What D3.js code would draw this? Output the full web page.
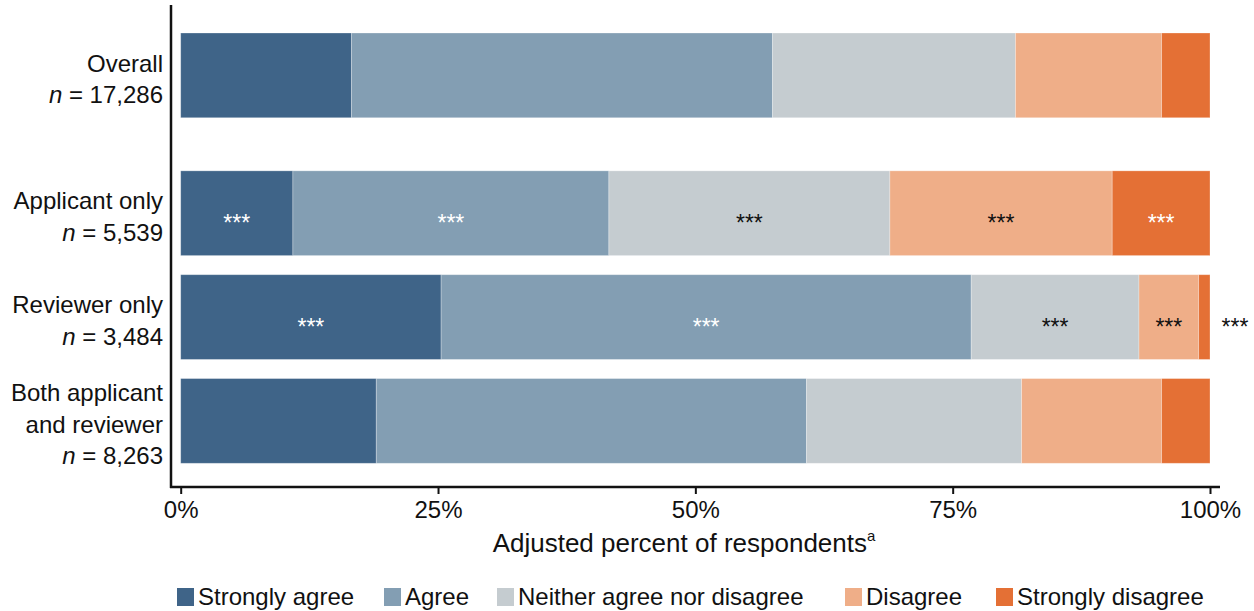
<!DOCTYPE html>
<html>
<head>
<meta charset="utf-8">
<script src="https://cdn.jsdelivr.net/npm/d3@7"></script>
<style>
  html, body { margin: 0; padding: 0; background: #fff; }
  svg text { font-family: "Liberation Sans", Arial, Helvetica, sans-serif; }
</style>
</head>
<body>
<svg id="chart" width="1254" height="611"></svg>
<script>
// ---- Data ----
const categories = ["Overall", "Applicant only", "Reviewer only", "Both applicant and reviewer"];
const categoryLines = [["Overall"], ["Applicant only"], ["Reviewer only"], ["Both applicant", "and reviewer"]];
const sampleSizes = ["17,286", "5,539", "3,484", "8,263"];
const responses = ["Strongly agree", "Agree", "Neither agree nor disagree", "Disagree", "Strongly disagree"];
const stronglyAgree    = [16.6, 10.9, 25.3, 19.0];
const agree            = [40.9, 30.7, 51.5, 41.8];
const neither          = [23.6, 27.3, 16.3, 20.9];
const disagree         = [14.2, 21.6,  5.8, 13.6];
const stronglyDisagree = [ 4.7,  9.5,  1.1,  4.7];
const significance = [
  ["", "", "", "", ""],
  ["***", "***", "***", "***", "***"],
  ["***", "***", "***", "***", "***"],
  ["", "", "", "", ""]
];
const xTicks = [0, 25, 50, 75, 100];
const colors = ["#3f6488", "#839eb3", "#c5ccd0", "#efae88", "#e47035"];
const starColors = ["#ffffff", "#ffffff", "#111111", "#111111", "#ffffff"];

const seriesValues = [stronglyAgree, agree, neither, disagree, stronglyDisagree];
const rows = categories.map((c, i) => {
  const r = { category: c, index: i };
  responses.forEach((resp, j) => { r[resp] = seriesValues[j][i]; });
  return r;
});
const stacked = d3.stack().keys(responses)(rows);

// ---- Layout ----
const svg = d3.select("#chart");
const x = d3.scaleLinear().domain([0, 100]).range([180.7, 1210]);
const yBand = d3.scaleBand().domain(categories).range([67, 463.3]).paddingInner(0.184).paddingOuter(0);
const firstGap = 34;
const yTop = c => yBand(c) - (c === categories[0] ? firstGap : 0);
const bw = yBand.bandwidth();

// Bars
const layers = svg.append("g").selectAll("g").data(stacked).join("g")
  .attr("fill", (d, i) => colors[i]);
layers.selectAll("rect").data(d => d).join("rect")
  .attr("x", d => x(d[0]))
  .attr("width", d => x(d[1]) - x(d[0]))
  .attr("y", d => yTop(d.data.category))
  .attr("height", bw)
  .attr("stroke", "#ffffff").attr("stroke-opacity", 0.35).attr("stroke-width", 0.8);

// Significance stars
const starG = svg.append("g");
stacked.forEach((layer, j) => {
  layer.forEach((d, i) => {
    const s = significance[i][j];
    if (!s) return;
    const w = x(d[1]) - x(d[0]);
    const outside = w < 30;
    const cx = outside ? x(100) + 25 : (x(d[0]) + x(d[1])) / 2;
    starG.append("text")
      .attr("x", cx)
      .attr("y", yTop(d.data.category) + bw / 2 + 18)
      .attr("text-anchor", "middle")
      .attr("font-size", 23)
      .attr("fill", outside ? "#111111" : starColors[j])
      .text(s);
  });
});

// Axes lines
const axisColor = "#111111";
svg.append("line").attr("x1", 171).attr("x2", 171).attr("y1", 5).attr("y2", 488)
  .attr("stroke", axisColor).attr("stroke-width", 2.5);
svg.append("line").attr("x1", 170).attr("x2", 1220).attr("y1", 487).attr("y2", 487)
  .attr("stroke", axisColor).attr("stroke-width", 2.5);

// X axis ticks via d3 axis
const xAxis = d3.axisBottom(x).tickValues(xTicks).tickFormat(d => d + "%").tickSize(7).tickPadding(7);
const xg = svg.append("g").attr("transform", "translate(0,487)").call(xAxis);
xg.select(".domain").remove();
xg.selectAll(".tick line").attr("stroke", axisColor).attr("stroke-width", 2);
xg.selectAll(".tick text").attr("font-size", 24).attr("fill", "#111111")
  .attr("font-family", '"Liberation Sans", Arial, sans-serif');

// X axis title
const title = svg.append("text").attr("x", 684).attr("y", 552).attr("text-anchor", "middle")
  .attr("font-size", 26).attr("fill", "#111111");
title.append("tspan").text("Adjusted percent of respondents");
title.append("tspan").attr("font-size", 15).attr("dy", -11).text("a");

// Y labels
const lineH = 31.5;
categories.forEach((c, i) => {
  const lines = categoryLines[i].map(t => ({ t }));
  lines.push({ n: sampleSizes[i] });
  const k = lines.length;
  const cy = yTop(c) + bw / 2 + 12;
  lines.forEach((ln, li) => {
    const t = svg.append("text")
      .attr("x", 163)
      .attr("y", cy + (li - (k - 1) / 2) * lineH)
      .attr("text-anchor", "end")
      .attr("font-size", 24)
      .attr("fill", "#111111");
    if (ln.n) {
      t.append("tspan").attr("font-style", "italic").text("n");
      t.append("tspan").text(" = " + ln.n);
    } else {
      t.text(ln.t);
    }
  });
});

// Legend
const legendX = [177, 384, 497, 845, 996];
const lg = svg.append("g");
responses.forEach((r, i) => {
  lg.append("rect").attr("x", legendX[i]).attr("y", 588).attr("width", 17).attr("height", 18)
    .attr("fill", colors[i]);
  lg.append("text").attr("x", legendX[i] + 21).attr("y", 605)
    .attr("font-size", 24).attr("fill", "#111111").text(r);
});
</script>
</body>
</html>
